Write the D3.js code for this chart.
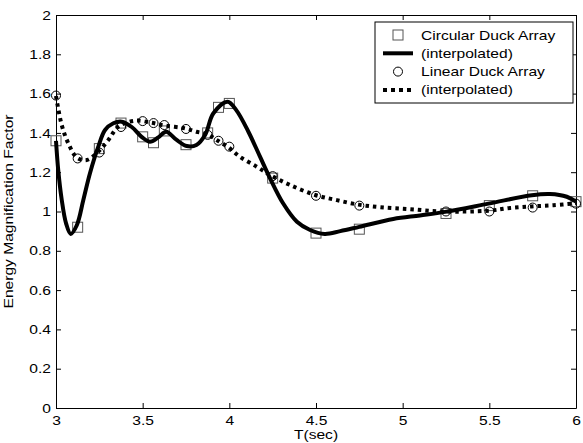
<!DOCTYPE html>
<html>
<head>
<meta charset="utf-8">
<script src="https://cdn.jsdelivr.net/npm/d3@7"></script>
<style>
  body { margin: 0; background: #fff; }
  svg { display: block; font-family: "Liberation Sans", Arial, Helvetica, sans-serif; }
</style>
</head>
<body>
<div id="chart"></div>
<script>
// Periods (sec) where both arrays were computed
const periods = [3, 3.125, 3.25, 3.375, 3.5, 3.5625, 3.625, 3.75, 3.875, 3.9375, 4,
                 4.25, 4.5, 4.75, 5.25, 5.5, 5.75, 6];

// Energy magnification factor, circular duck array (markers)
const circularValues = [1.36, 0.92, 1.32, 1.45, 1.38, 1.35, 1.41, 1.34, 1.40, 1.53, 1.55,
                        1.17, 0.89, 0.91, 0.99, 1.03, 1.08, 1.05];

// Energy magnification factor, linear duck array (markers)
const linearValues = [1.59, 1.27, 1.30, 1.43, 1.46, 1.45, 1.44, 1.42, 1.39, 1.36, 1.33,
                      1.18, 1.08, 1.03, 1.00, 1.00, 1.02, 1.04];

// Interpolated circular curve
const circularCurveT = [3, 3.013, 3.033, 3.058, 3.085, 3.12, 3.158, 3.196, 3.244, 3.283,
                        3.331, 3.379, 3.437, 3.494, 3.542, 3.59, 3.635, 3.696, 3.754, 3.81,
                        3.86, 3.908, 3.99, 4.04, 4.11, 4.177, 4.235, 4.31, 4.39, 4.466,
                        4.55, 4.64, 4.75, 4.946, 5.1, 5.245, 5.495, 5.745, 5.85, 5.947, 6];
const circularCurveV = [1.36, 1.21, 1.06, 0.94, 0.886, 0.93, 1.06, 1.195, 1.33, 1.415,
                        1.449, 1.457, 1.43, 1.38, 1.355, 1.377, 1.406, 1.364, 1.333, 1.338,
                        1.389, 1.5, 1.559, 1.516, 1.406, 1.279, 1.169, 1.042, 0.948, 0.906,
                        0.886, 0.9, 0.922, 0.962, 0.98, 0.998, 1.04, 1.083, 1.089, 1.075, 1.05];

// Interpolated linear curve
const linearCurveT = [3, 3.033, 3.071, 3.119, 3.177, 3.244, 3.302, 3.36, 3.456, 3.55,
                      3.63, 3.744, 3.81, 3.875, 3.927, 3.994, 4.06, 4.158, 4.235, 4.35,
                      4.495, 4.62, 4.745, 4.87, 5.04, 5.235, 5.495, 5.62, 5.745, 5.87, 6];
const linearCurveV = [1.588, 1.44, 1.347, 1.276, 1.262, 1.305, 1.364, 1.432, 1.462, 1.452,
                      1.437, 1.423, 1.406, 1.392, 1.364, 1.327, 1.279, 1.228, 1.186, 1.135,
                      1.084, 1.058, 1.035, 1.022, 1.012, 1.0, 1.004, 1.018, 1.026, 1.032, 1.042];

const xTicks = [3, 3.5, 4, 4.5, 5, 5.5, 6];
const yTicks = [0, 0.2, 0.4, 0.6, 0.8, 1, 1.2, 1.4, 1.6, 1.8, 2];

const legendLabels = ["Circular Duck Array", "(interpolated)", "Linear Duck Array", "(interpolated)"];

const W = 583, H = 443;
const margin = {top: 15, right: 7, bottom: 35, left: 56};
const width = W - margin.left - margin.right;
const height = H - margin.top - margin.bottom;
const stretch = 1.2;   // the original text is a bit wider than Liberation Sans

const svg = d3.select("#chart").append("svg")
    .attr("width", W)
    .attr("height", H);

const g = svg.append("g")
    .attr("transform", "translate(" + margin.left + "," + margin.top + ")");

const x = d3.scaleLinear().domain([3, 6]).range([0, width]);
const y = d3.scaleLinear().domain([0, 2]).range([height, 0]);

const fmt = d => String(d);

// axes, ticks pointing inward on all four sides
const xAxisG = g.append("g")
    .attr("transform", "translate(0," + height + ")")
    .call(d3.axisBottom(x).tickValues(xTicks).tickFormat(fmt).tickSizeInner(-5).tickSizeOuter(0).tickPadding(8));
g.append("g")
    .call(d3.axisTop(x).tickValues(xTicks).tickFormat("").tickSizeInner(-5).tickSizeOuter(0));
const yAxisG = g.append("g")
    .call(d3.axisLeft(y).tickValues(yTicks).tickFormat(fmt).tickSizeInner(-5).tickSizeOuter(0).tickPadding(5));
g.append("g")
    .attr("transform", "translate(" + width + ",0)")
    .call(d3.axisRight(y).tickValues(yTicks).tickFormat("").tickSizeInner(-5).tickSizeOuter(0));

g.selectAll(".domain").attr("stroke", "#000");
g.selectAll(".tick line").attr("stroke", "#000");
g.selectAll(".tick text")
    .attr("font-size", 13)
    .attr("fill", "#000")
    .attr("font-family", "\"Liberation Sans\", Arial, sans-serif");
xAxisG.selectAll(".tick text").attr("transform", "scale(" + stretch + ",1)");
yAxisG.selectAll(".tick text")
    .attr("x", -5 / stretch)
    .attr("transform", "scale(" + stretch + ",1)");

// axis titles
g.append("text")
    .attr("transform", "translate(" + (width / 2) + "," + (height + 31) + ") scale(" + stretch + ",1)")
    .attr("text-anchor", "middle")
    .attr("font-size", 13)
    .text("T(sec)");

g.append("text")
    .attr("transform", "translate(" + (-43) + "," + (height / 2) + ") rotate(-90) scale(" + stretch + ",1)")
    .attr("text-anchor", "middle")
    .attr("font-size", 13)
    .text("Energy Magnification Factor");

const plot = g.append("g");

const circularData = periods.map((p, i) => ({t: p, v: circularValues[i]}));
const linearData = periods.map((p, i) => ({t: p, v: linearValues[i]}));
const circularCurve = circularCurveT.map((p, i) => ({t: p, v: circularCurveV[i]}));
const linearCurve = linearCurveT.map((p, i) => ({t: p, v: linearCurveV[i]}));

const line = d3.line()
    .x(d => x(d.t))
    .y(d => y(d.v))
    .curve(d3.curveCatmullRom.alpha(0.5));

// circular markers
plot.selectAll(".sq")
    .data(circularData)
    .enter().append("rect")
    .attr("class", "sq")
    .attr("x", d => x(d.t) - 5)
    .attr("y", d => y(d.v) - 5)
    .attr("width", 10)
    .attr("height", 10)
    .attr("fill", "none")
    .attr("stroke", "#555")
    .attr("stroke-width", 1);

// circular interpolated
plot.append("path")
    .datum(circularCurve)
    .attr("d", line)
    .attr("fill", "none")
    .attr("stroke", "#000")
    .attr("stroke-width", 4);

// linear markers
plot.selectAll(".ci")
    .data(linearData)
    .enter().append("circle")
    .attr("class", "ci")
    .attr("cx", d => x(d.t))
    .attr("cy", d => y(d.v))
    .attr("r", 4.5)
    .attr("fill", "none")
    .attr("stroke", "#000")
    .attr("stroke-width", 1);

// linear interpolated
plot.append("path")
    .datum(linearCurve)
    .attr("d", line)
    .attr("fill", "none")
    .attr("stroke", "#000")
    .attr("stroke-width", 4)
    .attr("stroke-dasharray", "3.5,4");

// legend
const lg = svg.append("g").attr("transform", "translate(375,22)");
lg.append("rect")
    .attr("width", 198)
    .attr("height", 81)
    .attr("fill", "#fff")
    .attr("stroke", "#000");

const rowY = i => 13 + i * 18.3;

lg.append("rect")
    .attr("x", 18).attr("y", rowY(0) - 5)
    .attr("width", 10).attr("height", 10)
    .attr("fill", "none").attr("stroke", "#555");
lg.append("line")
    .attr("x1", 8).attr("x2", 38)
    .attr("y1", rowY(1)).attr("y2", rowY(1))
    .attr("stroke", "#000").attr("stroke-width", 4);
lg.append("circle")
    .attr("cx", 23).attr("cy", rowY(2)).attr("r", 4.5)
    .attr("fill", "none").attr("stroke", "#000");
lg.append("line")
    .attr("x1", 8).attr("x2", 40)
    .attr("y1", rowY(3)).attr("y2", rowY(3))
    .attr("stroke", "#000").attr("stroke-width", 4)
    .attr("stroke-dasharray", "4,4");

lg.selectAll(".lt")
    .data(legendLabels)
    .enter().append("text")
    .attr("class", "lt")
    .attr("transform", (d, i) => "translate(46," + rowY(i) + ") scale(" + stretch + ",1)")
    .attr("dy", "0.35em")
    .attr("font-size", 13)
    .text(d => d);
</script>
</body>
</html>
